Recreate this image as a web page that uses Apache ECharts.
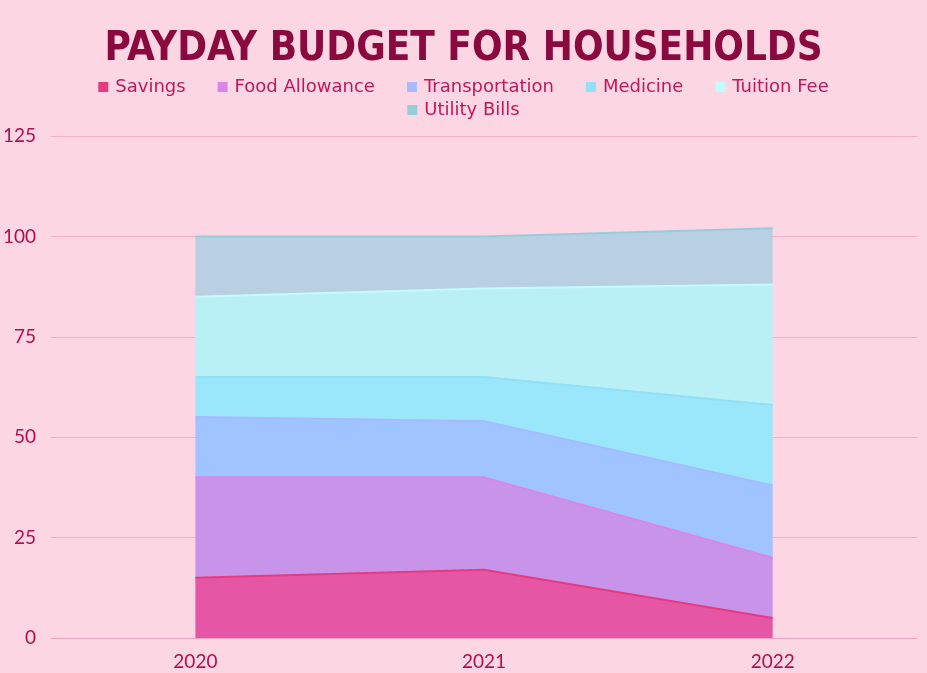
<!DOCTYPE html>
<html>
<head>
<meta charset="utf-8">
<script src="https://cdn.jsdelivr.net/npm/echarts@6/dist/echarts.min.js"></script>
<style>
  html, body { margin: 0; padding: 0; background: #fdd6e4; }
  #chart { width: 927px; height: 673px; }
</style>
</head>
<body>
<div id="chart"></div>
<script>
const years = ['2020', '2021', '2022']

const savings = [15, 17, 5]
const foodAllowance = [25, 23, 15]
const transportation = [15, 14, 18]
const medicine = [10, 11, 20]
const tuitionFee = [20, 22, 30]
const utilityBills = [15, 13, 14]

const seriesDefs = [
  { name: 'Savings', data: savings, line: '#e83a80', area: '#e557a5' },
  { name: 'Food Allowance', data: foodAllowance, line: '#d986e8', area: '#c894ea' },
  { name: 'Transportation', data: transportation, line: '#a8b9ff', area: '#a0c4ff' },
  { name: 'Medicine', data: medicine, line: '#92e0f8', area: '#9ae6fa' },
  { name: 'Tuition Fee', data: tuitionFee, line: '#c6fbfd', area: '#b8f0f6' },
  { name: 'Utility Bills', data: utilityBills, line: '#96cddb', area: '#b8d0e2' }
]

const legendBase = {
  left: 'center',
  itemWidth: 10,
  itemHeight: 10,
  itemGap: 32,
  icon: 'rect',
  textStyle: {
    fontFamily: 'DejaVu Sans',
    fontSize: 18,
    color: '#c0185a',
    padding: [0, 0, 0, 2]
  }
}

const chart = echarts.init(document.getElementById('chart'))

chart.setOption({
  backgroundColor: '#fdd6e4',
  animation: false,
  title: {
    text: 'PAYDAY BUDGET FOR HOUSEHOLDS',
    left: 'center',
    top: 25,
    textStyle: {
      fontFamily: 'DejaVu Sans Condensed',
      fontWeight: 'bold',
      fontSize: 40,
      color: '#8a0a40'
    }
  },
  legend: [
    Object.assign({}, legendBase, { top: 73, data: seriesDefs.slice(0, 5).map(s => s.name) }),
    Object.assign({}, legendBase, { top: 96, data: seriesDefs.slice(5).map(s => s.name) })
  ],
  grid: {
    left: 50,
    right: 10,
    top: 136,
    bottom: 35
  },
  xAxis: {
    type: 'category',
    data: years,
    boundaryGap: true,
    axisLine: { lineStyle: { color: '#f0a0c0', width: 1 } },
    axisTick: { show: false },
    axisLabel: {
      margin: 14,
      fontFamily: 'Lato, sans-serif',
      fontSize: 19,
      color: '#b0104f'
    }
  },
  yAxis: {
    type: 'value',
    min: 0,
    max: 125,
    interval: 25,
    axisLine: { show: false },
    axisTick: { show: false },
    splitLine: { lineStyle: { color: '#f3b0c8', width: 1 } },
    axisLabel: {
      margin: 15,
      fontFamily: 'Lato, sans-serif',
      fontSize: 19,
      color: '#b0104f'
    }
  },
  series: seriesDefs.map(s => ({
    name: s.name,
    type: 'line',
    stack: 'total',
    data: s.data,
    symbol: 'none',
    color: s.line,
    lineStyle: { color: s.line, width: 2 },
    areaStyle: { color: s.area, opacity: 1 }
  }))
})
</script>
</body>
</html>
